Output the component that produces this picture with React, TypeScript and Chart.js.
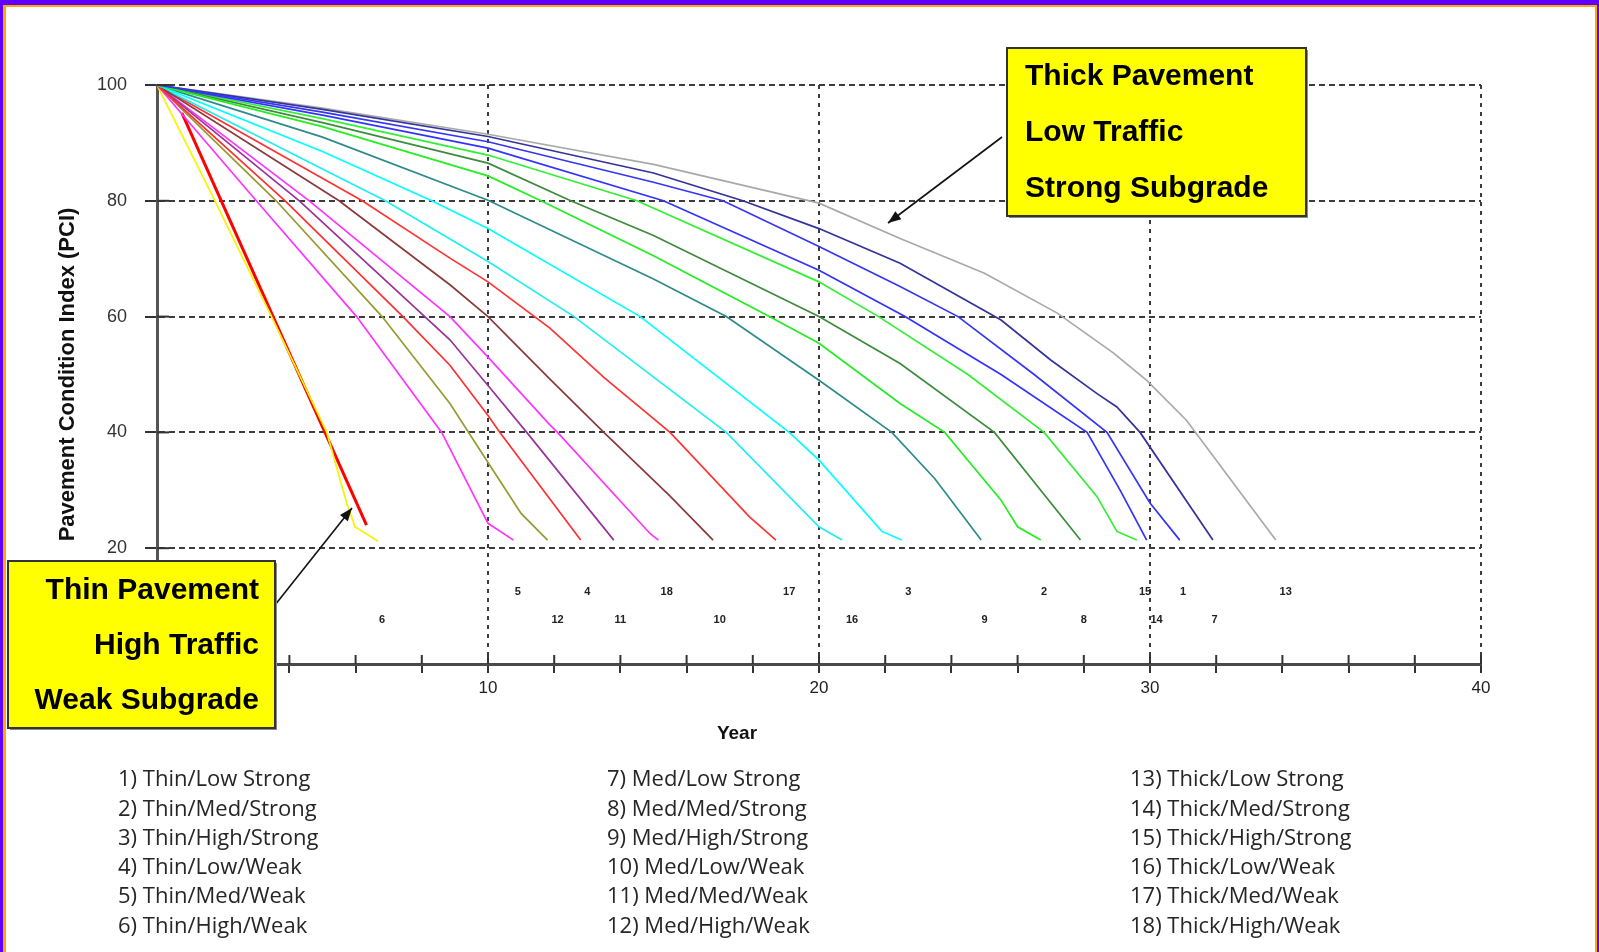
import { useEffect, useRef } from 'react';
import { Chart, registerables } from 'chart.js';

Chart.register(...registerables);

// ---- Data: [year, PCI] points ----
const c1 = [[0, 100], [5, 95.3], [10, 90.2], [15, 83.2], [17.1, 80], [20, 72.1], [22.45, 65.2], [24.2, 60], [26.5, 50], [28.7, 40], [30, 27.8], [30.9, 21.4]];
const c2 = [[0, 100], [5, 92.8], [10, 84.3], [11.6, 80], [15, 70.5], [18.5, 60], [20, 55.4], [22.45, 45], [23.8, 40], [25.5, 28.3], [26, 23.7], [26.7, 21.4]];
const c3 = [[0, 100], [5, 88.5], [8.3, 80], [10, 75.2], [14.6, 60], [19.1, 40], [20, 35.2], [21.9, 22.9], [22.5, 21.4]];
const c4 = [[0, 100], [3.87, 80], [7.43, 60], [8.85, 51.6], [10, 42.9], [10.36, 40], [12.8, 21.4]];
const c5 = [[0, 100], [3, 80], [6.03, 60], [8.6, 40], [10, 24.3], [10.77, 21.4]];
const c6 = [[0, 100], [1.75, 80], [3.46, 60], [5.13, 40], [5.73, 27.8], [5.98, 23.7], [6.68, 21.2]];
const c7 = [[0, 100], [5, 95.8], [10, 91.1], [15, 84.8], [17.7, 80], [20, 75.2], [22.45, 69.2], [25.5, 59.4], [27, 52.5], [28.4, 46.7], [29, 44.4], [29.7, 40], [31.9, 21.4]];
const c8 = [[0, 100], [5, 93.5], [10, 86.5], [12.5, 80], [15, 74], [20, 60], [22.45, 51.9], [25.3, 40], [27.9, 21.4]];
const c9 = [[0, 100], [5, 91], [10, 80.1], [15, 66.5], [17.2, 60], [20, 49], [22.2, 40], [23.5, 32], [24.9, 21.4]];
const c10 = [[0, 100], [5.5, 80], [8.85, 65.5], [10, 60], [11.87, 49.2], [13.5, 40], [15.5, 29], [16.8, 21.4]];
const c11 = [[0, 100], [4.3, 80], [8.85, 56], [10, 48.1], [11.17, 40], [13.8, 21.4]];
const c12 = [[0, 100], [3.6, 80], [6.8, 60], [8.85, 45], [10, 34.8], [11, 26], [11.8, 21.4]];
const c13 = [[0, 100], [5, 96], [10, 91.5], [15, 86.3], [20, 79.6], [22.45, 73.5], [25, 67.5], [27.2, 60.6], [28.9, 53.7], [29.9, 49], [31.1, 42.1], [33.8, 21.4]];
const c14 = [[0, 100], [5, 94.8], [10, 89.1], [15.3, 80], [20, 68], [22.6, 60], [25.5, 50], [28.1, 40], [29.1, 30], [29.9, 21.4]];
const c15 = [[0, 100], [5, 94.2], [10, 87.9], [14.5, 80], [20, 66], [21.8, 60], [24.5, 50], [26.8, 40], [28.4, 28.9], [29, 22.9], [29.6, 21.4]];
const c16 = [[0, 100], [5, 85.5], [6.9, 80], [10, 69.5], [12.6, 60], [17.2, 40], [20, 23.7], [20.7, 21.4]];
const c17 = [[0, 100], [6.2, 80], [8.85, 70.1], [10, 66], [11.87, 58], [13.5, 49.5], [15.5, 40], [17.9, 25.4], [18.7, 21.4]];
const c18 = [[0, 100], [4.6, 80], [8.85, 60], [10, 53], [11.87, 41.3], [12.1, 40], [14.9, 22.5], [15.15, 21.4]];
const highlightLine = [[0.75, 95.2], [6.33, 24]];

const seriesNames = [
  '1) Thin/Low Strong', '2) Thin/Med/Strong', '3) Thin/High/Strong', '4) Thin/Low/Weak', '5) Thin/Med/Weak', '6) Thin/High/Weak',
  '7) Med/Low Strong', '8) Med/Med/Strong', '9) Med/High/Strong', '10) Med/Low/Weak', '11) Med/Med/Weak', '12) Med/High/Weak',
  '13) Thick/Low Strong', '14) Thick/Med/Strong', '15) Thick/High/Strong', '16) Thick/Low/Weak', '17) Thick/Med/Weak', '18) Thick/High/Weak',
];
const seriesColors = [
  '#3535F5', '#22EE22', '#00FFFF', '#FF3030', '#FF33FF', '#F5F500',
  '#333399', '#3C8C3C', '#2E8B8B', '#8B3A3A', '#993399', '#999933',
  '#A9A9A9', '#3333FF', '#33EE33', '#22EEEE', '#FF3333', '#FF33FF',
];

// curve-number labels inside the plot (year, PCI)
const labelNums = ['5', '4', '18', '17', '3', '2', '15', '1', '13', '6', '12', '11', '10', '16', '9', '8', '14', '7'];
const labelYears = [10.9, 13.0, 15.4, 19.1, 22.7, 26.8, 29.85, 31.0, 34.1, 6.8, 12.1, 14.0, 17.0, 21.0, 25.0, 28.0, 30.2, 31.95];
const labelPci = [12.4, 12.4, 12.4, 12.4, 12.4, 12.4, 12.4, 12.4, 12.4, 7.6, 7.6, 7.6, 7.6, 7.6, 7.6, 7.6, 7.6, 7.6];

const thickBoxLines = ['Thick Pavement', 'Low Traffic', 'Strong Subgrade'];
const thinBoxLines = ['Thin Pavement', 'High Traffic', 'Weak Subgrade'];

const curves = [c1, c2, c3, c4, c5, c6, c7, c8, c9, c10, c11, c12, c13, c14, c15, c16, c17, c18];

function arrow(ctx: CanvasRenderingContext2D, x1: number, y1: number, x2: number, y2: number) {
  ctx.save();
  ctx.strokeStyle = '#111';
  ctx.fillStyle = '#111';
  ctx.lineWidth = 1.6;
  ctx.beginPath();
  ctx.moveTo(x1, y1);
  ctx.lineTo(x2, y2);
  ctx.stroke();
  const a = Math.atan2(y2 - y1, x2 - x1);
  const L = 13, W = 5;
  ctx.beginPath();
  ctx.moveTo(x2, y2);
  ctx.lineTo(x2 - L * Math.cos(a) + W * Math.sin(a), y2 - L * Math.sin(a) - W * Math.cos(a));
  ctx.lineTo(x2 - L * Math.cos(a) - W * Math.sin(a), y2 - L * Math.sin(a) + W * Math.cos(a));
  ctx.closePath();
  ctx.fill();
  ctx.restore();
}

function box(ctx: CanvasRenderingContext2D, x: number, y: number, w: number, h: number) {
  ctx.save();
  ctx.fillStyle = '#888';
  ctx.fillRect(x + 2, y + 2, w, h);
  ctx.fillStyle = '#FFFF00';
  ctx.fillRect(x, y, w, h);
  ctx.strokeStyle = '#333';
  ctx.lineWidth = 2;
  ctx.strokeRect(x, y, w, h);
  ctx.restore();
}

const decorPlugin = {
  id: 'decor',
  beforeDraw(chart: any) {
    const ctx = chart.ctx as CanvasRenderingContext2D;
    ctx.save();
    ctx.fillStyle = '#fff';
    ctx.fillRect(0, 0, chart.width, chart.height);
    ctx.restore();
  },
  afterDraw(chart: any) {
    const ctx = chart.ctx as CanvasRenderingContext2D;
    const xs = chart.scales.x;
    const ys = chart.scales.y;
    ctx.save();
    // axis ticks crossing the axis lines
    ctx.strokeStyle = '#333';
    ctx.lineWidth = 2;
    for (const t of xs.ticks) {
      const px = xs.getPixelForValue(t.value);
      ctx.beginPath();
      ctx.moveTo(px, ys.bottom - 9);
      ctx.lineTo(px, ys.bottom);
      ctx.stroke();
    }
    for (const t of ys.ticks) {
      if (t.value === 0) continue;
      const py = ys.getPixelForValue(t.value);
      ctx.beginPath();
      ctx.moveTo(xs.left, py);
      ctx.lineTo(xs.left + 12, py);
      ctx.stroke();
    }
    // curve number labels
    ctx.fillStyle = '#222';
    ctx.font = 'bold 11px "Liberation Sans"';
    ctx.textAlign = 'center';
    ctx.textBaseline = 'middle';
    labelNums.forEach((n, i) => {
      ctx.fillText(n, xs.getPixelForValue(labelYears[i]), ys.getPixelForValue(labelPci[i]));
    });

    // x axis title
    ctx.fillStyle = '#111';
    ctx.font = 'bold 19px "Liberation Sans"';
    ctx.fillText('Year', 737, 734);

    // arrows + annotation boxes
    arrow(ctx, 1002, 137, 888, 223);
    arrow(ctx, 275, 605, 352, 508);
    box(ctx, 1007, 48, 299, 168);
    box(ctx, 8, 561, 267, 167);
    ctx.fillStyle = '#000';
    ctx.font = 'bold 30px "Liberation Sans"';
    ctx.textAlign = 'left';
    thickBoxLines.forEach((s, i) => ctx.fillText(s, 1025, 77 + i * 56));
    ctx.textAlign = 'right';
    thinBoxLines.forEach((s, i) => ctx.fillText(s, 259, 591 + i * 55));

    // legend list
    ctx.fillStyle = '#262626';
    ctx.font = '22px "Open Sans"';
    ctx.textAlign = 'left';
    const colX = [118, 607, 1130];
    seriesNames.forEach((s, i) => {
      const col = Math.floor(i / 6);
      const row = i % 6;
      ctx.fillText(s, colX[col], 780 + row * 29.3);
    });

    // page frame
    ctx.fillStyle = '#6000FF';
    ctx.fillRect(0, 0, chart.width, 5);
    ctx.fillRect(0, 0, 3, chart.height);
    ctx.fillRect(chart.width - 2, 0, 2, chart.height);
    ctx.fillStyle = '#FFA800';
    ctx.fillRect(3, 5, chart.width - 5, 2);
    ctx.fillRect(3, 5, 3, chart.height - 5);
    ctx.fillRect(chart.width - 4, 5, 2, chart.height - 5);
    ctx.restore();
  },
};

export default function App() {
  const ref = useRef<HTMLCanvasElement>(null);
  useEffect(() => {
    document.body.style.margin = '0';
    const canvas = ref.current!;
    const datasets: any[] = curves.map((c, i) => ({
      label: seriesNames[i],
      data: c.map(([x, y]) => ({ x, y })),
      borderColor: seriesColors[i],
      borderWidth: 1.7,
      pointRadius: 0,
      fill: false,
      tension: 0,
    }));
    datasets.push({
      label: 'highlight',
      data: highlightLine.map(([x, y]) => ({ x, y })),
      borderColor: '#FF0000',
      borderWidth: 3,
      pointRadius: 0,
      fill: false,
      tension: 0,
    });
    const transparent = 'rgba(0,0,0,0)';
    const chart = new Chart(canvas, {
      type: 'line',
      data: { datasets },
      options: {
        responsive: false,
        animation: false,
        layout: { padding: { left: 48, top: 85, right: 118, bottom: 258 } },
        plugins: { legend: { display: false }, tooltip: { enabled: false } },
        scales: {
          x: {
            type: 'linear',
            min: 0,
            max: 40,
            afterFit: (s: any) => { s.height = 30; },
            ticks: {
              stepSize: 2,
              autoSkip: false,
              maxRotation: 0,
              padding: 5,
              color: '#222',
              font: { family: 'Liberation Sans', size: 17 },
              callback: (v: any) => (Number(v) % 10 === 0 ? String(v) : ''),
            },
            grid: {
              color: (ctx: any) => (ctx.tick && ctx.tick.value % 10 === 0 && ctx.tick.value !== 0 ? '#3c3c3c' : transparent),
              lineWidth: 2,
              drawTicks: true,
              tickLength: 9,
              tickColor: '#333',
              tickWidth: 2,
            },
            border: { display: true, color: '#4a4a4a', width: 3, dash: [4, 5] },
          },
          y: {
            min: 0,
            max: 100,
            afterFit: (s: any) => { s.width = 109; },
            title: {
              display: true,
              text: 'Pavement Condition Index (PCI)',
              color: '#111',
              font: { family: 'Liberation Sans', size: 22, weight: 'bold' },
              padding: { top: 7, bottom: 0 },
            },
            ticks: {
              stepSize: 20,
              padding: 18,
              color: '#333',
              font: { family: 'Liberation Sans', size: 18 },
              callback: (v: any) => (Number(v) === 0 ? '' : String(v)),
            },
            grid: {
              color: (ctx: any) => (ctx.tick && ctx.tick.value > 0 ? '#3c3c3c' : transparent),
              lineWidth: 2,
              tickLength: 12,
              tickColor: (ctx: any) => (ctx.tick && ctx.tick.value > 0 ? '#333' : transparent),
              tickWidth: 2,
            },
            border: { display: true, color: '#555', width: 3, dash: [6, 4] },
          },
        },
      } as any,
      plugins: [decorPlugin],
    });
    return () => chart.destroy();
  }, []);
  return <canvas ref={ref} width={1599} height={952} style={{ display: 'block', width: '1599px', height: '952px' }} />;
}
